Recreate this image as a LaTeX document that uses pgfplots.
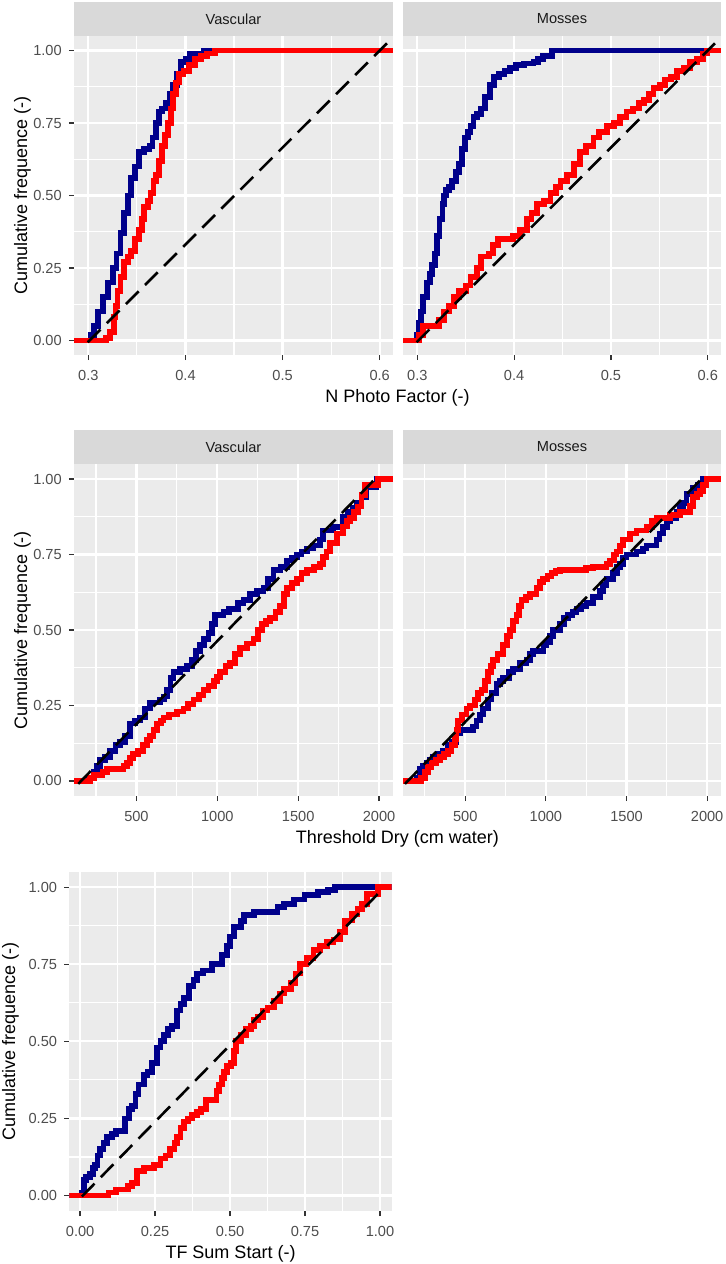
\documentclass[border=0pt]{standalone}
\usepackage{pgfplots}
\pgfplotsset{compat=1.18}
\usepackage{fontspec}
\setmainfont{Liberation Sans}
\definecolor{ggbg}{HTML}{EBEBEB}
\definecolor{ggstrip}{HTML}{D9D9D9}
\definecolor{ggtick}{HTML}{333333}
\definecolor{ggtext}{HTML}{4D4D4D}
\definecolor{ggstriptext}{HTML}{1A1A1A}
\definecolor{ggblue}{HTML}{00008B}
\definecolor{ggred}{HTML}{FF0000}
\pgfplotsset{
  gg/.style={
    scale only axis,
    axis background/.style={fill=ggbg},
    axis line style={draw=none},
    grid=both,
    major grid style={white, line width=1.1pt},
    minor grid style={white, line width=0.55pt},
    tick align=outside,
    tick pos=left,
    major tick length=2.6pt,
    minor tick length=0pt,
    tick style={ggtick, line width=0.6pt},
    tick label style={font=\fontsize{7.3}{8}\selectfont, text=ggtext},
    xticklabel style={yshift=-1.3pt},
    label style={font=\fontsize{9}{10}\selectfont, text=black},
    ymin=-0.05, ymax=1.05,
    ytick={0,0.25,0.5,0.75,1},
    yticklabels={0.00,0.25,0.50,0.75,1.00},
    minor ytick={0.125,0.375,0.625,0.875},
  },
  noy/.style={yticklabels={}, ytick style={draw=none}},
  bl/.style={color=ggblue, line width=2.9pt, const plot, mark=none},
  rd/.style={color=ggred, line width=2.9pt, const plot, mark=none},
  ds/.style={color=black, line width=1.3pt, dash pattern=on 9pt off 4.5pt, mark=none},
  toprow/.style={xmin=0.2852, xmax=0.6137, xtick={0.3,0.4,0.5,0.6},
    xticklabels={0.3,0.4,0.5,0.6}, minor xtick={0.35,0.45,0.55}},
  midrow/.style={xmin=114, xmax=2086, xtick={500,1000,1500,2000},
    xticklabels={500,1000,1500,2000}, minor xtick={250,750,1250,1750}},
}
\newcommand{\strip}[2]{%
  \fill[ggstrip] (#1.north west) rectangle ([yshift=17pt]#1.north east);
  \node[font=\fontsize{7.3}{8}\selectfont, text=ggstriptext] at ([yshift=8.5pt]#1.north) {#2};}
\begin{document}
\begin{tikzpicture}
\path[use as bounding box] (0,0) rectangle (363pt,-632pt);
% ---------------- top left
\begin{axis}[gg, toprow, name=tl, at={(37pt,-18pt)}, anchor=north west,
  width=159.5pt, height=159.5pt,
  ylabel={Cumulative frequence (-)},
  ylabel style={at={(axis description cs:-0.1614,0.5)}, anchor=center},
  xlabel={N Photo Factor (-)},
  xlabel style={at={(axis description cs:1.0141,-0.1348)}, anchor=center}]
\addplot[bl] coordinates {(0.2852,0) (0.3028,0.02) (0.306,0.05) (0.310,0.10) (0.315,0.15) (0.320,0.20) (0.325,0.25) (0.329,0.30) (0.333,0.37) (0.337,0.44) (0.3406,0.50) (0.344,0.56) (0.348,0.60) (0.352,0.65) (0.357,0.66) (0.363,0.67) (0.366,0.70) (0.370,0.75) (0.373,0.79) (0.376,0.80) (0.380,0.82) (0.384,0.85) (0.387,0.88) (0.391,0.92) (0.395,0.96) (0.400,0.97) (0.405,0.99) (0.419,1.00) (0.6137,1.00)};
\addplot[rd] coordinates {(0.2852,0) (0.318,0.01) (0.322,0.03) (0.326,0.08) (0.328,0.12) (0.330,0.17) (0.333,0.22) (0.337,0.27) (0.341,0.29) (0.344,0.31) (0.348,0.35) (0.352,0.38) (0.355,0.42) (0.3575,0.46) (0.361,0.48) (0.364,0.51) (0.367,0.55) (0.370,0.57) (0.373,0.62) (0.376,0.67) (0.379,0.71) (0.382,0.75) (0.385,0.80) (0.387,0.85) (0.390,0.89) (0.393,0.92) (0.398,0.93) (0.404,0.95) (0.410,0.97) (0.416,0.98) (0.422,0.99) (0.430,1.00) (0.6137,1.00)};
\addplot[ds] coordinates {(0.2993,-0.006) (0.6075,1.025)};
\end{axis}
\strip{tl}{Vascular}
% ---------------- top right
\begin{axis}[gg, toprow, noy, name=tr, at={(201.5pt,-18pt)}, anchor=north west,
  width=159pt, height=159.5pt]
\addplot[bl] coordinates {(0.2852,0) (0.300,0.02) (0.3015,0.06) (0.3034,0.10) (0.306,0.15) (0.310,0.20) (0.313,0.23) (0.3155,0.26) (0.318,0.30) (0.3206,0.36) (0.323,0.42) (0.326,0.47) (0.3275,0.50) (0.330,0.52) (0.333,0.53) (0.336,0.55) (0.340,0.58) (0.343,0.61) (0.346,0.66) (0.349,0.70) (0.352,0.72) (0.355,0.74) (0.358,0.77) (0.362,0.78) (0.366,0.80) (0.370,0.84) (0.375,0.88) (0.379,0.91) (0.384,0.92) (0.390,0.93) (0.396,0.94) (0.402,0.95) (0.410,0.955) (0.420,0.96) (0.425,0.97) (0.430,0.98) (0.439,1.00) (0.6137,1.00)};
\addplot[rd] coordinates {(0.2852,0) (0.302,0.02) (0.306,0.05) (0.322,0.07) (0.3275,0.10) (0.333,0.12) (0.338,0.15) (0.343,0.17) (0.350,0.19) (0.355,0.22) (0.362,0.25) (0.366,0.29) (0.374,0.30) (0.378,0.33) (0.383,0.35) (0.392,0.35) (0.399,0.36) (0.406,0.38) (0.413,0.42) (0.418,0.44) (0.424,0.47) (0.431,0.48) (0.4375,0.51) (0.443,0.53) (0.448,0.55) (0.455,0.57) (0.4615,0.61) (0.468,0.65) (0.474,0.67) (0.482,0.70) (0.488,0.72) (0.496,0.74) (0.503,0.75) (0.5096,0.77) (0.516,0.79) (0.523,0.80) (0.529,0.82) (0.534,0.83) (0.539,0.85) (0.544,0.87) (0.551,0.88) (0.556,0.90) (0.562,0.91) (0.568,0.93) (0.575,0.94) (0.582,0.96) (0.589,0.97) (0.5955,0.99) (0.599,1.00) (0.6137,1.00)};
\addplot[ds] coordinates {(0.2993,-0.006) (0.6075,1.025)};
\end{axis}
\strip{tr}{Mosses}
% ---------------- middle left
\begin{axis}[gg, midrow, name=ml, at={(37pt,-232pt)}, anchor=north west,
  width=159.5pt, height=166pt,
  ylabel={Cumulative frequence (-)},
  ylabel style={at={(axis description cs:-0.1614,0.5)}, anchor=center},
  xlabel={Threshold Dry (cm water)},
  xlabel style={at={(axis description cs:1.0141,-0.1295)}, anchor=center}]
\addplot[bl] coordinates {(114,0) (203,0.01) (234,0.03) (255,0.05) (275,0.07) (305,0.08) (337,0.10) (370,0.12) (399,0.13) (430,0.15) (461,0.19) (490,0.20) (523,0.21) (555,0.24) (585,0.26) (646,0.27) (670,0.28) (688,0.30) (710,0.34) (729,0.36) (770,0.37) (811,0.38) (842,0.40) (870,0.43) (894,0.45) (920,0.47) (945,0.49) (965,0.52) (987,0.55) (1038,0.56) (1070,0.57) (1130,0.59) (1162,0.60) (1203,0.62) (1245,0.63) (1285,0.64) (1315,0.67) (1347,0.70) (1390,0.71) (1430,0.73) (1460,0.74) (1492,0.75) (1520,0.76) (1553,0.77) (1590,0.78) (1636,0.80) (1654,0.83) (1716,0.84) (1778,0.876) (1810,0.89) (1840,0.904) (1865,0.92) (1891,0.942) (1922,0.975) (1984,1.00) (2086,1.00)};
\addplot[rd] coordinates {(114,0) (215,0.01) (240,0.02) (290,0.03) (317,0.04) (420,0.05) (440,0.06) (460,0.075) (481,0.09) (510,0.10) (543,0.12) (565,0.135) (585,0.15) (605,0.17) (626,0.19) (650,0.20) (667,0.21) (700,0.22) (750,0.23) (791,0.24) (820,0.255) (853,0.27) (885,0.285) (915,0.30) (945,0.315) (977,0.33) (1000,0.345) (1018,0.36) (1050,0.38) (1080,0.39) (1110,0.42) (1141,0.44) (1185,0.455) (1224,0.47) (1250,0.50) (1275,0.52) (1300,0.53) (1327,0.54) (1360,0.56) (1389,0.58) (1410,0.62) (1430,0.64) (1460,0.655) (1492,0.67) (1520,0.69) (1553,0.70) (1600,0.71) (1636,0.72) (1654,0.743) (1675,0.76) (1696,0.788) (1740,0.82) (1778,0.843) (1800,0.86) (1819,0.871) (1845,0.89) (1870,0.909) (1891,0.948) (1912,0.981) (1994,1.00) (2086,1.00)};
\addplot[ds] coordinates {(140,-0.01) (1985,1.006)};
\end{axis}
\strip{ml}{Vascular}
% ---------------- middle right
\begin{axis}[gg, midrow, noy, name=mr, at={(201.5pt,-232pt)}, anchor=north west,
  width=159pt, height=166pt]
\addplot[bl] coordinates {(114,0) (200,0.01) (219,0.04) (240,0.05) (260,0.06) (280,0.07) (302,0.08) (330,0.09) (364,0.10) (390,0.12) (415,0.13) (446,0.16) (467,0.17) (550,0.18) (570,0.20) (590,0.22) (612,0.24) (640,0.27) (663,0.29) (694,0.32) (715,0.33) (736,0.34) (770,0.36) (798,0.37) (839,0.39) (880,0.40) (900,0.42) (921,0.43) (985,0.45) (1004,0.46) (1025,0.48) (1045,0.50) (1087,0.52) (1110,0.54) (1138,0.55) (1165,0.56) (1190,0.57) (1220,0.58) (1252,0.59) (1293,0.61) (1335,0.63) (1355,0.65) (1376,0.67) (1417,0.69) (1440,0.71) (1459,0.72) (1480,0.74) (1500,0.75) (1562,0.76) (1600,0.77) (1624,0.78) (1686,0.80) (1705,0.82) (1727,0.84) (1750,0.86) (1769,0.87) (1810,0.89) (1830,0.91) (1851,0.92) (1872,0.95) (1913,0.97) (1940,0.98) (1975,1.00) (2086,1.00)};
\addplot[rd] coordinates {(114,0) (225,0.01) (250,0.03) (270,0.045) (291,0.06) (320,0.07) (343,0.08) (370,0.09) (395,0.10) (415,0.12) (436,0.14) (446,0.17) (457,0.20) (480,0.22) (508,0.24) (530,0.25) (560,0.27) (580,0.29) (601,0.30) (622,0.33) (643,0.36) (660,0.38) (674,0.40) (700,0.42) (736,0.45) (757,0.48) (777,0.50) (798,0.53) (818,0.55) (835,0.58) (849,0.60) (875,0.61) (901,0.62) (942,0.64) (963,0.66) (983,0.67) (1010,0.68) (1035,0.69) (1060,0.695) (1087,0.70) (1250,0.705) (1293,0.71) (1376,0.72) (1400,0.73) (1420,0.75) (1438,0.76) (1460,0.78) (1479,0.80) (1520,0.82) (1562,0.83) (1624,0.84) (1660,0.86) (1686,0.87) (1769,0.88) (1831,0.89) (1893,0.91) (1913,0.94) (1935,0.95) (1955,0.96) (1975,0.98) (1996,1.00) (2086,1.00)};
\addplot[ds] coordinates {(126,-0.01) (1975,1.006)};
\end{axis}
\strip{mr}{Mosses}
% ---------------- bottom
\begin{axis}[gg, name=bt, at={(34.65pt,-435.85pt)}, anchor=north west,
  width=161.2pt, height=169.65pt,
  xmin=-0.036, xmax=1.039, xtick={0,0.25,0.5,0.75,1},
  xticklabels={0.00,0.25,0.50,0.75,1.00}, minor xtick={0.125,0.375,0.625,0.875},
  ylabel={Cumulative frequence (-)},
  ylabel style={at={(axis description cs:-0.1824,0.5)}, anchor=center},
  xlabel={TF Sum Start (-)},
  xlabel style={at={(axis description cs:0.5,-0.1267)}, anchor=center}]
\addplot[bl] coordinates {(-0.036,0) (0.006,0.01) (0.012,0.05) (0.02,0.06) (0.033,0.07) (0.042,0.09) (0.05,0.10) (0.058,0.13) (0.067,0.15) (0.078,0.17) (0.089,0.19) (0.106,0.20) (0.120,0.21) (0.151,0.25) (0.162,0.28) (0.173,0.29) (0.185,0.33) (0.195,0.36) (0.212,0.39) (0.225,0.40) (0.24,0.43) (0.257,0.48) (0.268,0.50) (0.279,0.52) (0.293,0.54) (0.307,0.55) (0.324,0.60) (0.335,0.62) (0.346,0.64) (0.363,0.68) (0.378,0.70) (0.39,0.72) (0.41,0.73) (0.44,0.75) (0.474,0.78) (0.491,0.81) (0.50,0.84) (0.513,0.87) (0.536,0.89) (0.547,0.91) (0.58,0.92) (0.658,0.935) (0.681,0.945) (0.714,0.96) (0.748,0.975) (0.792,0.985) (0.826,0.99) (0.85,1.00) (1.039,1.00)};
\addplot[rd] coordinates {(-0.036,0) (0.095,0.01) (0.12,0.02) (0.16,0.03) (0.173,0.04) (0.19,0.08) (0.212,0.09) (0.246,0.10) (0.268,0.12) (0.285,0.13) (0.301,0.15) (0.315,0.17) (0.324,0.19) (0.335,0.22) (0.346,0.24) (0.36,0.25) (0.374,0.26) (0.39,0.27) (0.402,0.28) (0.419,0.31) (0.455,0.34) (0.463,0.36) (0.472,0.38) (0.48,0.40) (0.49,0.42) (0.502,0.43) (0.512,0.47) (0.519,0.50) (0.536,0.52) (0.552,0.54) (0.569,0.55) (0.58,0.57) (0.592,0.58) (0.61,0.60) (0.625,0.61) (0.647,0.63) (0.667,0.655) (0.681,0.67) (0.703,0.69) (0.718,0.72) (0.733,0.752) (0.755,0.77) (0.778,0.795) (0.80,0.81) (0.822,0.822) (0.845,0.83) (0.867,0.854) (0.883,0.892) (0.906,0.914) (0.925,0.93) (0.939,0.946) (0.956,0.979) (0.994,1.00) (1.039,1.00)};
\addplot[ds] coordinates {(0.006,-0.003) (1.0,0.985)};
\end{axis}
\end{tikzpicture}
\end{document}
